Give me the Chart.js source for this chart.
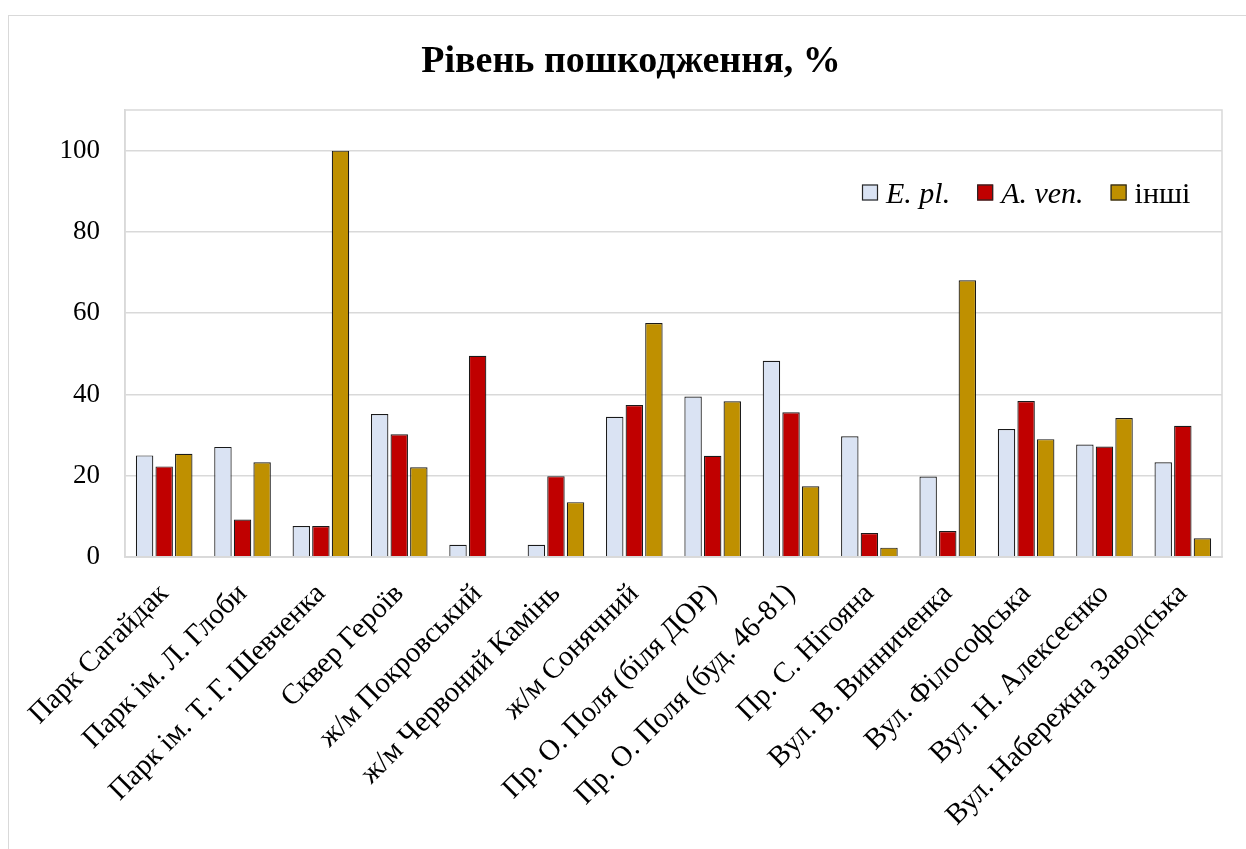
<!DOCTYPE html>
<html>
<head>
<meta charset="utf-8">
<script src="https://cdn.jsdelivr.net/npm/chart.js@4.4.1/dist/chart.umd.min.js"></script>
<style>
  html, body { margin: 0; padding: 0; background: #fff; }
  #wrap { position: relative; width: 1246px; height: 849px; }
  #frame { position: absolute; left: 8px; top: 15px; width: 1240px; height: 850px; border: 1.5px solid #d9d9d9; box-sizing: border-box; pointer-events: none; }
  canvas { position: absolute; left: 0; top: 0; }
</style>
</head>
<body>
<div id="wrap">
<canvas id="c" width="1246" height="849"></canvas>
<div id="frame"></div>
</div>
<script>
const categories = [
  'Парк Сагайдак',
  'Парк ім. Л. Глоби',
  'Парк ім. Т. Г. Шевченка',
  'Сквер Героїв',
  'ж/м Покровський',
  'ж/м Червоний Камінь',
  'ж/м Сонячний',
  'Пр. О. Поля (біля ДОР)',
  'Пр. О. Поля (буд. 46-81)',
  'Пр. С. Нігояна',
  'Вул. В. Винниченка',
  'Вул. Філософська',
  'Вул. Н. Алексеєнко',
  'Вул. Набережна Заводська'
];
const seriesNames = ['E. pl.', 'A. ven.', 'інші'];
const ePl   = [25.0, 27.1, 7.6, 35.2, 3.0, 3.0, 34.5, 39.5, 48.3, 29.7, 19.8, 31.5, 27.7, 23.3];
const aVen  = [22.3,  9.2, 7.6, 30.2, 49.5, 19.9, 37.4, 24.9, 35.6, 5.9, 6.4, 38.4, 27.2, 32.3];
const inshi = [25.4, 23.3, 100, 22.1, 0, 13.5, 57.6, 38.3, 17.4, 2.3, 68.1, 29.0, 34.2, 4.6];
const yTicks = [0, 20, 40, 60, 80, 100];
const title = 'Рівень пошкодження, %';

const colors = ['#DAE3F3', '#C00000', '#BF9000'];
const italicSeries = [true, true, false];
const values = [ePl, aVen, inshi];
const SERIF = '"Liberation Serif", "Times New Roman", serif';

const titlePlugin = {
  id: 'customTitle',
  afterDraw(chart) {
    const ctx = chart.ctx;
    ctx.save();
    ctx.font = 'bold 38px ' + SERIF;
    ctx.fillStyle = '#000';
    ctx.textAlign = 'center';
    ctx.textBaseline = 'alphabetic';
    ctx.fillText(title, 631, 71.5);
    ctx.restore();
  }
};

const legendPlugin = {
  id: 'customLegend',
  afterDraw(chart) {
    const ctx = chart.ctx;
    ctx.save();
    const font = '30px ' + SERIF;
    const ifont = 'italic 30px ' + SERIF;
    const box = 16, gapBoxText = 8, gapItems = 27;
    let x = 862;
    const yMid = 192.5;
    chart.data.datasets.forEach((ds, i) => {
      ctx.fillStyle = ds.backgroundColor;
      ctx.strokeStyle = '#262626';
      ctx.lineWidth = 1.2;
      ctx.fillRect(x, yMid - box / 2, box, box);
      ctx.strokeRect(x + 0.5, yMid - box / 2 + 0.5, box - 1, box - 1);
      x += box + gapBoxText;
      ctx.font = italicSeries[i] ? ifont : font;
      ctx.fillStyle = '#000';
      ctx.textBaseline = 'alphabetic';
      ctx.textAlign = 'left';
      ctx.fillText(ds.label, x, yMid + 10.5);
      x += ctx.measureText(ds.label).width + gapItems;
    });
    ctx.restore();
  }
};

const plotBorder = {
  id: 'plotBorder',
  afterDatasetsDraw(chart) {
    const a = chart.chartArea;
    const ctx = chart.ctx;
    ctx.save();
    ctx.strokeStyle = '#d9d9d9';
    ctx.lineWidth = 1.5;
    ctx.strokeRect(a.left, a.top, a.right - a.left, a.bottom - a.top);
    ctx.restore();
  }
};

new Chart(document.getElementById('c'), {
  type: 'bar',
  data: {
    labels: categories,
    datasets: seriesNames.map((name, i) => ({
      label: name,
      data: values[i],
      backgroundColor: colors[i],
      borderColor: '#1a1a1a',
      borderWidth: 1.2,
      categoryPercentage: 0.75,
      barPercentage: 0.89
    }))
  },
  options: {
    responsive: false,
    animation: false,
    devicePixelRatio: 1,
    layout: { padding: { left: 0, right: 24, top: 110, bottom: 0 } },
    plugins: {
      legend: { display: false },
      tooltip: { enabled: false },
      title: { display: false }
    },
    scales: {
      x: {
        grid: { display: false, drawTicks: false },
        border: { display: true, color: '#d9d9d9', width: 1.5 },
        ticks: {
          color: '#000',
          maxRotation: 45,
          minRotation: 45,
          autoSkip: false,
          padding: 20,
          font: { family: SERIF, size: 29 }
        },
        afterFit(scale) { scale.height = 292; }
      },
      y: {
        min: 0,
        max: 110,
        afterBuildTicks(scale) { scale.ticks = yTicks.map(v => ({ value: v })); },
        grid: { color: '#d9d9d9', lineWidth: 1.5, drawTicks: false },
        border: { display: true, color: '#d9d9d9', width: 1.5 },
        ticks: {
          color: '#000',
          padding: 25,
          font: { family: SERIF, size: 27 }
        },
        afterFit(scale) { scale.width = 125; }
      }
    }
  },
  plugins: [titlePlugin, legendPlugin, plotBorder]
});
</script>
</body>
</html>
